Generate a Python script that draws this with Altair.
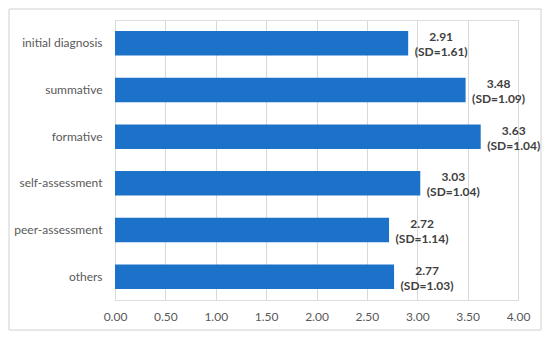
import altair as alt
import pandas as pd

categories = ["initial diagnosis", "summative", "formative", "self-assessment", "peer-assessment", "others"]
means = [2.91, 3.48, 3.63, 3.03, 2.72, 2.77]
sds = [1.61, 1.09, 1.04, 1.04, 1.14, 1.03]

df = pd.DataFrame({
    "cat": categories,
    "mean": means,
    "mlabel": [f"{m:.2f}" for m in means],
    "sdlabel": [f"(SD={s:.2f})" for s in sds],
})

FONT = "Lato"
W, H = 403, 280

x_enc = alt.X("mean:Q", scale=alt.Scale(domain=[0, 4], nice=False),
              axis=alt.Axis(values=[0, 0.5, 1, 1.5, 2, 2.5, 3, 3.5, 4], format=".2f",
                            title=None, ticks=False, domain=False, grid=True,
                            gridColor="#d9d9d9", labelColor="#595959", labelFontSize=12,
                            labelFont=FONT, labelPadding=11, labelFlush=False))
y_enc = alt.Y("cat:N", sort=categories,
              scale=alt.Scale(paddingInner=0.475, paddingOuter=0.2375),
              axis=alt.Axis(title=None, ticks=False, domain=False, labelColor="#595959",
                            labelFontSize=12, labelFont=FONT, labelPadding=13))

base = alt.Chart(df)
bars = base.mark_bar(color="#1B72C8").encode(x=x_enc, y=y_enc)
t1 = base.mark_text(align="center", baseline="middle", dx=33, dy=-6, fontSize=12,
                    fontWeight="bold", font=FONT, color="#404040").encode(
    x="mean:Q", y=alt.Y("cat:N", sort=categories), text="mlabel:N")
t2 = base.mark_text(align="center", baseline="middle", dx=33, dy=9, fontSize=12,
                    fontWeight="bold", font=FONT, color="#404040").encode(
    x="mean:Q", y=alt.Y("cat:N", sort=categories), text="sdlabel:N")

frame = alt.Chart(pd.DataFrame({"a": [0]})).mark_rect(
    fill=None, stroke="#d0d0d0", strokeWidth=1).encode(
    x=alt.value(-106), x2=alt.value(426), y=alt.value(-11), y2=alt.value(310))

chart = alt.layer(frame, bars, t1, t2).properties(
    width=W, height=H,
    autosize=alt.AutoSizeParams(type="none"),
    padding={"left": 107, "top": 12, "right": 24, "bottom": 31},
).configure_view(stroke=None).configure(background="white")

chart.save("out.html", embed_options={"renderer": "svg", "actions": False})
